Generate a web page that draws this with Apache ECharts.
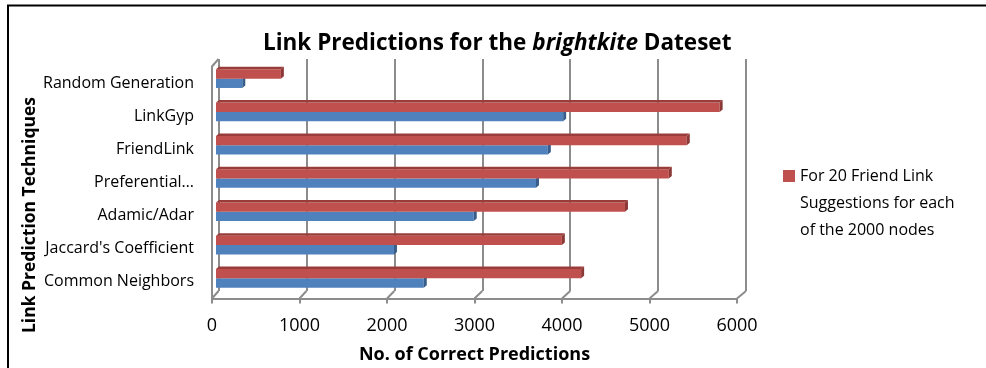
<!DOCTYPE html>
<html>
<head>
<meta charset="utf-8">
<script src="https://cdn.jsdelivr.net/npm/echarts@6/dist/echarts.min.js"></script>
<style>
  html, body { margin: 0; padding: 0; background: #fff; }
  #chart { width: 986px; height: 368px; }
</style>
</head>
<body>
<div id="chart"></div>
<script>
// Techniques, listed bottom-to-top as the category y axis lays them out
const techniques = ['Common Neighbors', "Jaccard's Coefficient", 'Adamic/Adar', 'Preferential…', 'FriendLink', 'LinkGyp', 'Random Generation'];
// Correct predictions per technique (same order as techniques)
const suggestions20 = [4165, 3945, 4665, 5165, 5370, 5745, 740];
const suggestionsOther = [2370, 2030, 2940, 3650, 3785, 3960, 300];
// Value axis ticks
const xTicks = [0, 1000, 2000, 3000, 4000, 5000, 6000];
// Legend text, one entry per line
const legendLines = ['For 20 Friend Link', 'Suggestions for each', 'of the 2000 nodes'];

const FONT = 'Open Sans';
const GRID_COLOR = '#8c8c8c';

// Excel-style 3D frame: back wall, front edge and the bar plane in between
const backWall = { left: 218.5, top: 59, width: 527.5, height: 232 };
const frontEdge = { left: 212, top: 66.5, width: 525, height: 232 };
const barPlane = { left: 216, top: 62, width: 526, height: 233 };

const chart = echarts.init(document.getElementById('chart'), null, { renderer: 'canvas' });

// Draws a bar as a box: front face, right end face and (for the upper bar) a top face
function boxBar(front, top, side, upper) {
  return function (params, api) {
    const v = api.value(0);
    const c = api.value(1);
    const p0 = api.coord([0, c]);
    const p1 = api.coord([v, c]);
    const band = api.size([0, 1])[1];
    const h = band * 0.28;
    const dx = band * 0.09;
    const dy = band * 0.075;
    const y0 = upper ? p0[1] - h : p0[1];
    const y1 = y0 + h;
    const x0 = p0[0];
    const x1 = p1[0];
    const children = [
      { type: 'rect', shape: { x: x0, y: y0, width: x1 - x0, height: h }, style: { fill: front } },
      { type: 'polygon', shape: { points: [[x1, y0], [x1 + dx, y0 - dy], [x1 + dx, y1 - dy], [x1, y1]] }, style: { fill: side } }
    ];
    if (upper) {
      children.push({ type: 'polygon', shape: { points: [[x0, y0], [x0 + dx, y0 - dy], [x1 + dx, y0 - dy], [x1, y0]] }, style: { fill: top } });
    }
    return { type: 'group', children };
  };
}

const valueAxisBase = { type: 'value', min: xTicks[0], max: xTicks[xTicks.length - 1], interval: xTicks[1] - xTicks[0] };

chart.setOption({
  animation: false,
  backgroundColor: '#fff',
  title: {
    text: '{b|Link Predictions for the }{i|brightkite}{b| Dateset}',
    left: 263,
    top: 32,
    padding: 0,
    textStyle: {
      rich: {
        b: { fontFamily: FONT, fontSize: 22.5, fontWeight: 'bold', color: '#000' },
        i: { fontFamily: FONT, fontSize: 22.5, fontWeight: 'bold', fontStyle: 'italic', color: '#000' }
      }
    }
  },
  legend: {
    data: [legendLines.join(' ')],
    left: 783,
    top: 108.5,
    padding: 0,
    icon: 'rect',
    itemWidth: 12,
    itemHeight: 12,
    selectedMode: false,
    // two blank lines on top keep the first text line level with the swatch
    formatter: () => '\n\n' + legendLines.join('\n'),
    textStyle: { fontFamily: FONT, fontSize: 16, color: '#000', lineHeight: 27 }
  },
  grid: [
    Object.assign({ containLabel: false, outerBoundsMode: 'none' }, backWall),
    Object.assign({ containLabel: false, outerBoundsMode: 'none' }, frontEdge),
    Object.assign({ containLabel: false, outerBoundsMode: 'none' }, barPlane)
  ],
  xAxis: [
    Object.assign({}, valueAxisBase, {
      gridIndex: 0,
      axisLine: { show: false },
      axisTick: { show: false },
      axisLabel: { show: false },
      splitLine: { show: true, lineStyle: { color: GRID_COLOR, width: 2 } }
    }),
    Object.assign({}, valueAxisBase, {
      gridIndex: 1,
      axisLine: { show: true, lineStyle: { color: GRID_COLOR, width: 2 } },
      axisTick: { show: true, length: 5, lineStyle: { color: GRID_COLOR, width: 2 } },
      axisLabel: { show: true, fontFamily: FONT, fontSize: 18, color: '#000', margin: 18, formatter: (v) => String(v) },
      splitLine: { show: false },
      name: 'No. of Correct Predictions',
      nameLocation: 'middle',
      nameGap: 47,
      nameMoveOverlap: false,
      nameTextStyle: { fontFamily: FONT, fontSize: 18, fontWeight: 'bold', color: '#000' }
    }),
    Object.assign({}, valueAxisBase, { gridIndex: 2, show: false })
  ],
  yAxis: [
    { type: 'category', gridIndex: 0, data: techniques, show: false },
    {
      type: 'category',
      gridIndex: 1,
      data: techniques,
      axisLine: { show: true, lineStyle: { color: GRID_COLOR, width: 2 } },
      axisTick: { show: false },
      axisLabel: { fontFamily: FONT, fontSize: 16, color: '#000', margin: 18 },
      splitLine: { show: false },
      name: 'Link Prediction Techniques',
      nameLocation: 'middle',
      nameRotate: 90,
      nameGap: 173,
      nameMoveOverlap: false,
      nameTextStyle: { fontFamily: FONT, fontSize: 17.5, fontWeight: 'bold', color: '#000', padding: [0, 65, 0, 0] }
    },
    { type: 'category', gridIndex: 2, data: techniques, show: false }
  ],
  series: [
    {
      name: 'Second suggestion set',
      type: 'custom',
      xAxisIndex: 2,
      yAxisIndex: 2,
      itemStyle: { color: '#4F81BD' },
      renderItem: boxBar('#4F81BD', '#3d6a9f', '#385d8a', false),
      encode: { x: 0, y: 1 },
      data: suggestionsOther.map((v, i) => [v, i])
    },
    {
      name: legendLines.join(' '),
      type: 'custom',
      xAxisIndex: 2,
      yAxisIndex: 2,
      itemStyle: { color: '#C0504D' },
      renderItem: boxBar('#C0504D', '#9a3d3a', '#8c3836', true),
      encode: { x: 0, y: 1 },
      data: suggestions20.map((v, i) => [v, i])
    }
  ]
});

// Floor connectors between the back wall and the front edge, plus the wall's top corner and outer border
const backBottom = backWall.top + backWall.height;
const frontBottom = frontEdge.top + frontEdge.height;
const frame = xTicks.map((t) => {
  const bx = chart.convertToPixel({ xAxisIndex: 0 }, t);
  const fx = chart.convertToPixel({ xAxisIndex: 1 }, t);
  return {
    type: 'polyline',
    shape: { points: [[bx, backBottom], [fx, frontBottom]] },
    style: { stroke: GRID_COLOR, lineWidth: 2, fill: null },
    silent: true
  };
});
frame.push({
  type: 'polyline',
  shape: { points: [[frontEdge.left, frontEdge.top], [backWall.left, backWall.top]] },
  style: { stroke: GRID_COLOR, lineWidth: 2, fill: null },
  silent: true
});
frame.push({
  type: 'rect',
  shape: { x: 8, y: 5.5, width: 1000, height: 400 },
  style: { stroke: '#000', lineWidth: 2, fill: null },
  silent: true
});
chart.setOption({ graphic: frame });
</script>
</body>
</html>
